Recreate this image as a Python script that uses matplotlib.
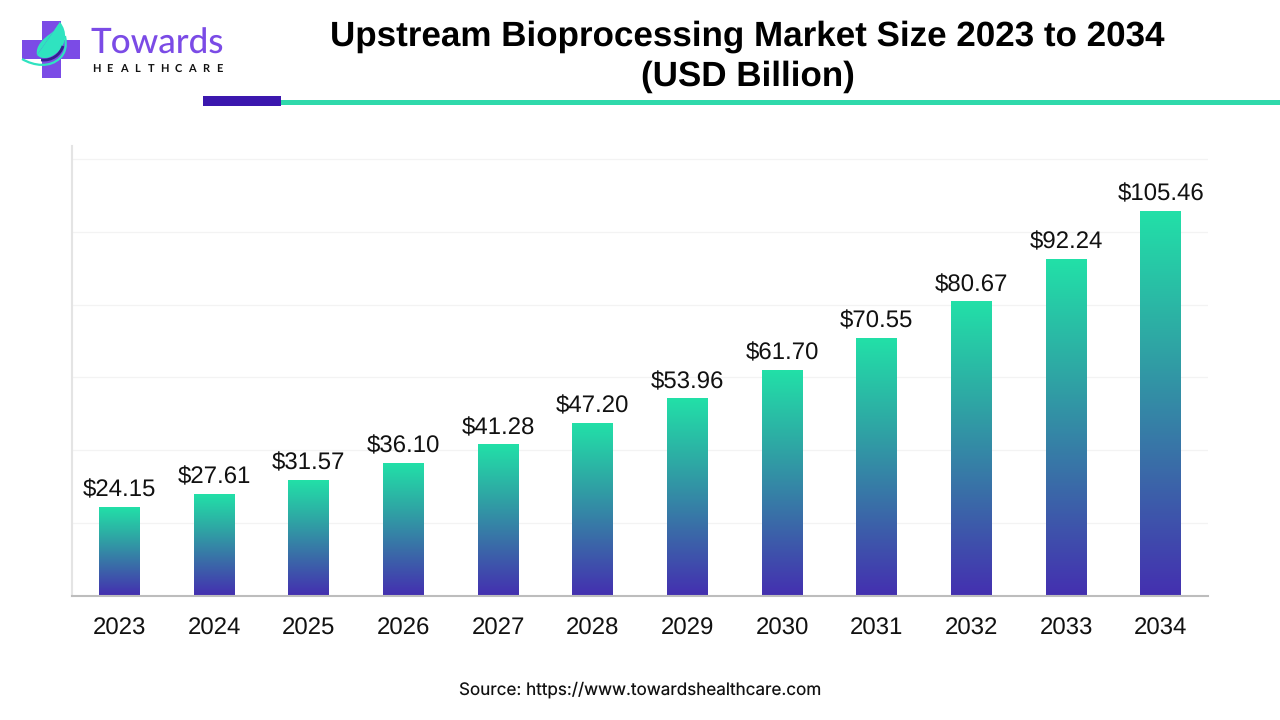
import numpy as np
import matplotlib
matplotlib.use('Agg')
import matplotlib.pyplot as plt
from matplotlib.colors import LinearSegmentedColormap
from matplotlib.patches import Rectangle, PathPatch
from matplotlib.path import Path

years = ['2023', '2024', '2025', '2026', '2027', '2028',
         '2029', '2030', '2031', '2032', '2033', '2034']
values = [24.15, 27.61, 31.57, 36.10, 41.28, 47.20,
          53.96, 61.70, 70.55, 80.67, 92.24, 105.46]
grid_values = [20, 40, 60, 80, 100, 120]

title_lines = ['Upstream Bioprocessing Market Size 2023 to 2034', '(USD Billion)']
source_text = 'Source: https://www.towardshealthcare.com'

plt.rcParams['font.family'] = ['Liberation Sans', 'DejaVu Sans']
plt.rcParams['text.hinting'] = 'none'
plt.rcParams['text.hinting_factor'] = 1

W, H = 1280, 720
fig = plt.figure(figsize=(W / 100, H / 100), dpi=100, facecolor='white')

# chart area, pixel box of the plot in the reference
left, right, top, bottom = 72, 1208, 146, 595.5
ax = fig.add_axes([left / W, 1 - bottom / H, (right - left) / W, (bottom - top) / H])
ax.set_facecolor('white')

for g in grid_values:
    ax.axhline(g, color='#f3f3f3', lw=0.9, zorder=0)

# gradient bars
cmap = LinearSegmentedColormap.from_list('bars', ['#4430b0', '#3a6ca8', '#2ea8a4', '#22e0a8'])
grad = np.linspace(1, 0, 256).reshape(-1, 1)
bar_w = 0.432
x = np.arange(len(values))
for xi, v in zip(x, values):
    ax.imshow(grad, cmap=cmap, vmin=0, vmax=1, aspect='auto', zorder=2,
              extent=(xi - bar_w / 2, xi + bar_w / 2, 0, v), interpolation='bilinear')
    ax.text(xi, v + 1.8, '$' + format(v, '.2f'), ha='center', va='bottom',
            fontsize=16.95, color='#111111', zorder=3)
ax.set_xlim(-0.5, 11.5)
ax.set_ylim(0, 123.7)

for s in ['top', 'right']:
    ax.spines[s].set_visible(False)
ax.spines['left'].set_color('#e4e4e4')
ax.spines['left'].set_linewidth(1.5)
ax.spines['bottom'].set_color('#bdbdbd')
ax.spines['bottom'].set_linewidth(1.5)
ax.set_yticks([])
ax.set_xticks(x)
ax.set_xticklabels(years, fontsize=16.95, color='#111111')
ax.tick_params(axis='x', length=0, pad=16)

# overlay in pixel coords for header stuff
ov = fig.add_axes([0, 0, 1, 1], zorder=5)
ov.set_xlim(0, W)
ov.set_ylim(H, 0)
ov.axis('off')
ov.patch.set_alpha(0)

ov.text(747.5, 36.5, title_lines[0], ha='center', va='center', fontsize=24.9,
        fontweight='bold', color='#000000')
ov.text(747.5, 77, title_lines[1], ha='center', va='center', fontsize=24.9,
        fontweight='bold', color='#000000')
ov.text(640, 690, source_text, ha='center', va='center', fontsize=12.3,
        color='#111111', family='Inter')

# accent line under the title
ov.add_patch(Rectangle((281, 99.5), W - 281, 5, color='#2fd9ab', lw=0))
ov.add_patch(Rectangle((203, 96), 78, 10, color='#3b17ae', lw=0))

# logo
purple = '#7b4be6'
teal = '#2fe3c0'
ov.add_patch(Rectangle((42, 21), 19, 57, color=purple, lw=0))
ov.add_patch(Rectangle((22, 40), 58, 19, color=purple, lw=0))
curve = [Path.MOVETO, Path.CURVE4, Path.CURVE4, Path.CURVE4, Path.CURVE4, Path.CURVE4, Path.CURVE4]
leaf = Path([(60, 22), (68, 32), (66, 44), (58, 52), (50, 59), (42, 60), (37, 55)], curve)
ov.add_patch(PathPatch(leaf, facecolor=teal, edgecolor='none'))
leaf2 = Path([(37, 55), (35, 46), (44, 38), (50, 34), (55, 30), (59, 26), (60, 22)], curve)
ov.add_patch(PathPatch(leaf2, facecolor=teal, edgecolor='none'))
body = Path([(60, 22), (62, 36), (50, 50), (37, 55)],
            [Path.MOVETO, Path.LINETO, Path.LINETO, Path.CLOSEPOLY])
ov.add_patch(PathPatch(body, facecolor=teal, edgecolor='none'))
dark = Path([(41, 60), (52, 61), (60, 55), (63, 46)],
            [Path.MOVETO, Path.CURVE4, Path.CURVE4, Path.CURVE4])
ov.add_patch(PathPatch(dark, facecolor='none', edgecolor='#33208f', lw=2))
swoosh = Path([(22, 59), (34, 66), (50, 68), (60, 58), (65, 53), (67, 47), (65, 36)],
              [Path.MOVETO, Path.CURVE4, Path.CURVE4, Path.CURVE4, Path.CURVE4, Path.CURVE4, Path.CURVE4])
ov.add_patch(PathPatch(swoosh, facecolor='none', edgecolor=teal, lw=1.6))
ov.text(90, 44, 'Towards', ha='left', va='center', fontsize=25.5, color=purple,
        family='Lato', fontweight='medium')
for i, ch in enumerate('HEALTHCARE'):
    ov.text(96 + i * 13.7, 69, ch, ha='center', va='center', fontsize=8,
            fontweight='bold', color='#111111', family='Lato')

fig.savefig('out.png', dpi=100, facecolor='white')
